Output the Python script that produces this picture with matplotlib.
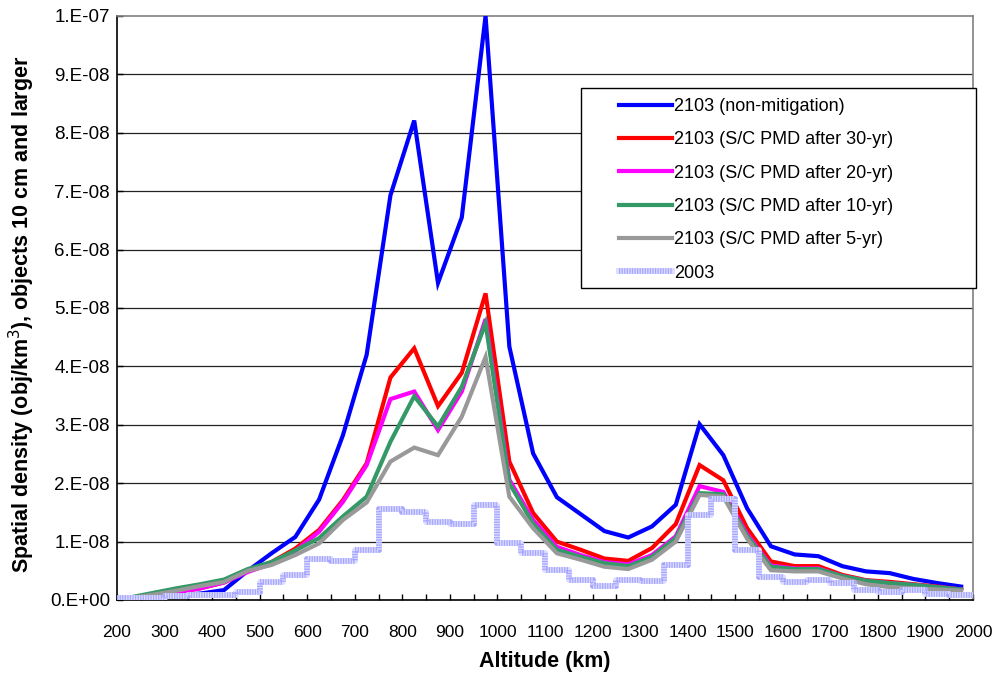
import numpy as np
import matplotlib
matplotlib.use("Agg")
import matplotlib.pyplot as plt
from matplotlib.lines import Line2D
from matplotlib.patches import Rectangle
from matplotlib.legend_handler import HandlerTuple

plt.rcParams['font.family'] = ['Liberation Sans', 'DejaVu Sans']

# Altitude bin centres (km)
altitude = [225, 275, 325, 375, 425, 475, 525, 575, 625, 675, 725, 775,
            825, 875, 925, 975, 1025, 1075, 1125, 1175, 1225, 1275, 1325, 1375,
            1425, 1475, 1525, 1575, 1625, 1675, 1725, 1775, 1825, 1875, 1925, 1975]

# Spatial density in units of 1e-8 obj/km^3
non_mitigation = [0.02, 0.05, 0.08, 0.11, 0.17, 0.50, 0.80, 1.08, 1.72, 2.82, 4.20, 6.93,
                  8.21, 5.43, 6.55, 10.0, 4.34, 2.51, 1.76, 1.47, 1.18, 1.07, 1.26, 1.63,
                  3.01, 2.48, 1.57, 0.92, 0.78, 0.75, 0.58, 0.49, 0.46, 0.36, 0.29, 0.23]
pmd_30yr = [0.03, 0.07, 0.13, 0.20, 0.30, 0.50, 0.65, 0.88, 1.20, 1.71, 2.34, 3.81,
            4.31, 3.32, 3.89, 5.25, 2.37, 1.49, 1.00, 0.86, 0.71, 0.67, 0.89, 1.30,
            2.31, 2.05, 1.23, 0.66, 0.58, 0.58, 0.43, 0.34, 0.31, 0.27, 0.23, 0.18]
pmd_20yr = [0.03, 0.07, 0.13, 0.20, 0.30, 0.48, 0.62, 0.84, 1.17, 1.68, 2.31, 3.44,
            3.57, 2.91, 3.57, 4.81, 2.06, 1.37, 0.91, 0.77, 0.65, 0.61, 0.77, 1.09,
            1.95, 1.85, 1.13, 0.59, 0.54, 0.54, 0.41, 0.33, 0.29, 0.26, 0.22, 0.18]
pmd_10yr = [0.04, 0.12, 0.20, 0.27, 0.35, 0.53, 0.65, 0.85, 1.06, 1.43, 1.77, 2.71,
            3.49, 2.97, 3.65, 4.74, 2.00, 1.31, 0.86, 0.74, 0.63, 0.58, 0.74, 1.06,
            1.83, 1.81, 1.10, 0.57, 0.53, 0.53, 0.41, 0.33, 0.29, 0.26, 0.22, 0.18]
pmd_5yr = [0.03, 0.09, 0.16, 0.24, 0.31, 0.50, 0.60, 0.77, 0.97, 1.37, 1.67, 2.37,
           2.61, 2.48, 3.14, 4.16, 1.77, 1.23, 0.80, 0.69, 0.57, 0.53, 0.69, 1.00,
           1.80, 1.77, 1.05, 0.51, 0.49, 0.49, 0.37, 0.27, 0.22, 0.20, 0.18, 0.16]

# 2003 population, per 50 km altitude bin
bin_edges = [200, 250, 300, 350, 400, 450, 500, 550, 600, 650, 700, 750, 800,
             850, 900, 950, 1000, 1050, 1100, 1150, 1200, 1250, 1300, 1350, 1400,
             1450, 1500, 1550, 1600, 1650, 1700, 1750, 1800, 1850, 1900, 1950, 2000]
pop_2003 = [0.03, 0.03, 0.06, 0.09, 0.09, 0.14, 0.31, 0.43, 0.71, 0.66, 0.86, 1.56,
            1.51, 1.34, 1.30, 1.62, 0.97, 0.80, 0.51, 0.34, 0.24, 0.34, 0.33, 0.60,
            1.46, 1.73, 0.86, 0.40, 0.31, 0.34, 0.29, 0.17, 0.13, 0.17, 0.11, 0.09]

series_labels = ["2103 (non-mitigation)", "2103 (S/C PMD after 30-yr)",
                 "2103 (S/C PMD after 20-yr)", "2103 (S/C PMD after 10-yr)",
                 "2103 (S/C PMD after 5-yr)", "2003"]
series_colors = ["#0000ff", "#ff0000", "#ff00ff", "#339966", "#999999"]

x_ticks = list(range(200, 2001, 100))
y_ticks = [0, 1e-8, 2e-8, 3e-8, 4e-8, 5e-8, 6e-8, 7e-8, 8e-8, 9e-8, 1e-7]
y_tick_labels = ["0.E+00", "1.E-08", "2.E-08", "3.E-08", "4.E-08", "5.E-08",
                 "6.E-08", "7.E-08", "8.E-08", "9.E-08", "1.E-07"]

scale = 1e-8

fig = plt.figure(figsize=(9.94, 6.74), dpi=100)
W, H = 994, 674
ax = fig.add_axes([117 / W, 1 - 600 / H, (973 - 117) / W, (600 - 16) / H])

# horizontal grid
for yv in y_ticks[1:-1]:
    ax.axhline(yv, color="#222222", lw=0.9, zorder=1)

lw = 3.0
handles = []
all_series = [non_mitigation, pmd_30yr, pmd_20yr, pmd_10yr, pmd_5yr]
for i, (vals, col) in enumerate(zip(all_series, series_colors)):
    ax.plot(altitude, np.array(vals) * scale, color=col, lw=lw,
            solid_joinstyle="miter", zorder=3 + i)
    handles.append(Line2D([0], [0], color=col, lw=lw))

# 2003 step outline: pale base with fine striping
step_y = np.append(pop_2003, pop_2003[-1]) * scale
ax.plot(bin_edges, step_y, drawstyle="steps-post", color="#dcdcff", lw=4.2, zorder=9)
ax.plot(bin_edges, step_y, drawstyle="steps-post", color="#a6a6ff", lw=4.2,
        linestyle=(0, (0.22, 0.22)), dash_capstyle="butt", zorder=10)
h_base = Line2D([0], [0], color="#dcdcff", lw=4.2)
h_dash = Line2D([0], [0], color="#a6a6ff", lw=4.2, linestyle=(0, (0.22, 0.22)),
                dash_capstyle="butt")
handles.append((h_base, h_dash))

ax.set_xlim(200, 2000)
ax.set_ylim(0, 1e-7)
ax.set_xticks(x_ticks)
ax.set_xticks(range(250, 2000, 100), minor=True)
ax.set_yticks(y_ticks)
ax.set_yticklabels(y_tick_labels)
ax.tick_params(axis="both", which="both", direction="in", length=4, width=1,
               colors="black")
ax.tick_params(axis="x", which="major", pad=18, labelsize=12.5)
ax.tick_params(axis="y", which="major", pad=5, labelsize=13.5)

for side in ("left", "bottom"):
    ax.spines[side].set_color("black")
    ax.spines[side].set_linewidth(1.2)
for side in ("top", "right"):
    ax.spines[side].set_color("#808080")
    ax.spines[side].set_linewidth(1.2)

ax.set_xlabel("Altitude (km)", fontsize=15.5, fontweight="bold")
ax.xaxis.set_label_coords(0.5, -0.088)
ax.set_ylabel("Spatial density (obj/km$^3$), objects 10 cm and larger",
              fontsize=15.5, fontweight="bold")
ax.yaxis.set_label_coords(-0.094, 0.49)

# legend frame and entries
fig.patches.append(Rectangle((581 / W, 1 - 288 / H), (976 - 581) / W, 200 / H,
                             transform=fig.transFigure, fill=True, facecolor="white",
                             edgecolor="black", lw=1.0, zorder=20))
leg = fig.legend(handles, series_labels, loc="upper left",
                 bbox_to_anchor=(603 / W, 1 - 82 / H), frameon=False,
                 fontsize=13, handlelength=2.9, handletextpad=0.12,
                 labelspacing=0.9, borderpad=0.4,
                 handler_map={tuple: HandlerTuple(ndivide=1, pad=0)})
leg.set_zorder(21)

fig.savefig("out.png", dpi=100)
